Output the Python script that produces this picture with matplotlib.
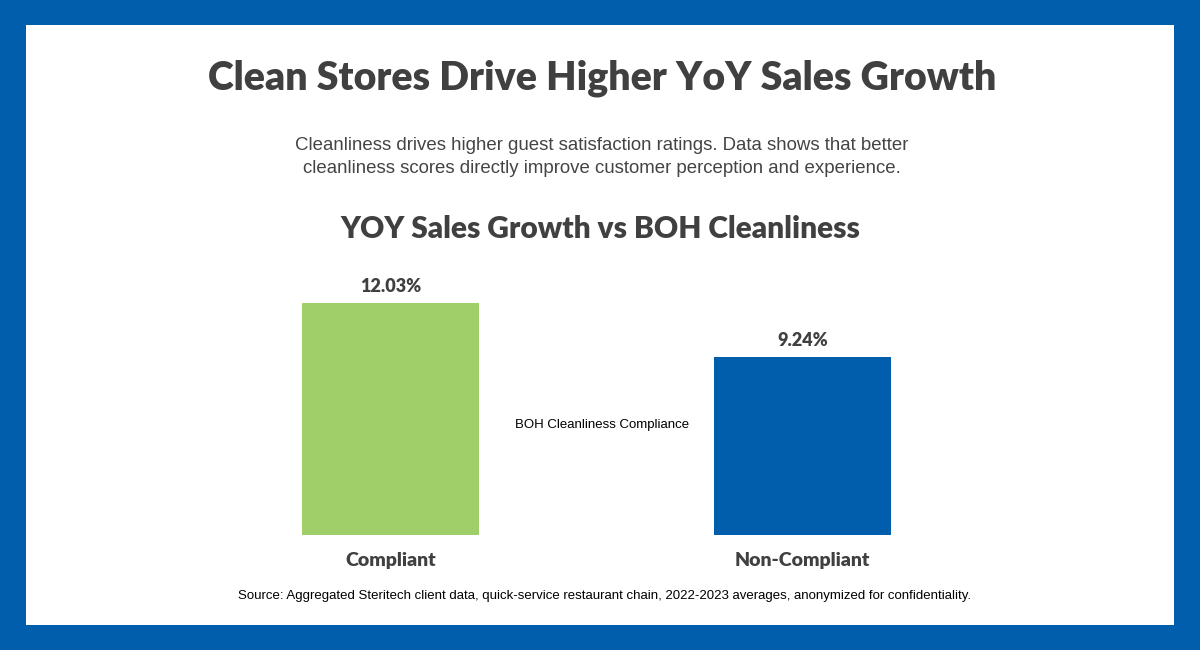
import matplotlib.pyplot as plt
from matplotlib.patches import Rectangle

categories = ['Compliant', 'Non-Compliant']
growth = [12.03, 9.24]
value_labels = ['12.03%', '9.24%']
bar_colors = ['#A0CF6A', '#005EAD']

title = 'Clean Stores Drive Higher YoY Sales Growth'
subtitle = ('Cleanliness drives higher guest satisfaction ratings. Data shows that better\n'
            'cleanliness scores directly improve customer perception and experience.')
chart_title = 'YOY Sales Growth vs BOH Cleanliness'
axis_label = 'BOH Cleanliness Compliance'
source = ('Source: Aggregated Steritech client data, quick-service restaurant chain, '
          '2022-2023 averages, anonymized for confidentiality.')

W, H = 1200, 650
dark = '#404040'
head_font = 'Lato'
body_font = 'Liberation Sans'

fig = plt.figure(figsize=(W / 100, H / 100), dpi=100)
fig.patch.set_facecolor('#005EAD')
fig.add_artist(Rectangle((26 / W, 1 - 625 / H), (1174 - 26) / W, (625 - 25) / H,
                         transform=fig.transFigure, facecolor='white', edgecolor='none', zorder=0))

# axes placed so x=0,1 land at the bar centres and y=0 at the bar base
px_per_unit = 19.28
ax_left, ax_right = 390.5 - 206, 802.5 + 206
ax_bottom = 535
ymax = 13
ax_h = ymax * px_per_unit
ax = fig.add_axes([ax_left / W, 1 - ax_bottom / H, (ax_right - ax_left) / W, ax_h / H])
ax.set_xlim(-0.5, 1.5)
ax.set_ylim(0, ymax)
ax.bar(range(len(categories)), growth, width=0.43, color=bar_colors)
ax.axis('off')
for i, (v, lab) in enumerate(zip(growth, value_labels)):
    ax.annotate(lab, (i, v), xytext=(0, 6), textcoords='offset points', ha='center',
                va='bottom', fontsize=13, fontweight='heavy', color=dark, family=head_font)
    ax.annotate(categories[i], (i, 0), xytext=(0, -12), textcoords='offset points', ha='center',
                va='top', fontsize=14, fontweight='heavy', color=dark, family=head_font)

fig.text(602 / W, 1 - 78 / H, title, ha='center', va='center', fontsize=28.3,
         fontweight='heavy', color=dark, family=head_font)
fig.text(602 / W, 1 - 157 / H, subtitle, ha='center', va='center', fontsize=13.4,
         color='#444444', family=body_font, linespacing=1.5)
fig.text(600 / W, 1 - 229 / H, chart_title, ha='center', va='center', fontsize=21.5,
         fontweight='heavy', color=dark, family=head_font)
fig.text(602 / W, 1 - 425 / H, axis_label, ha='center', va='center', fontsize=9.5,
         color='black', family=body_font)
fig.text(605 / W, 1 - 596 / H, source, ha='center', va='center', fontsize=9.5,
         color='black', family=body_font)

fig.savefig('out.png', dpi=100, facecolor=fig.get_facecolor())
